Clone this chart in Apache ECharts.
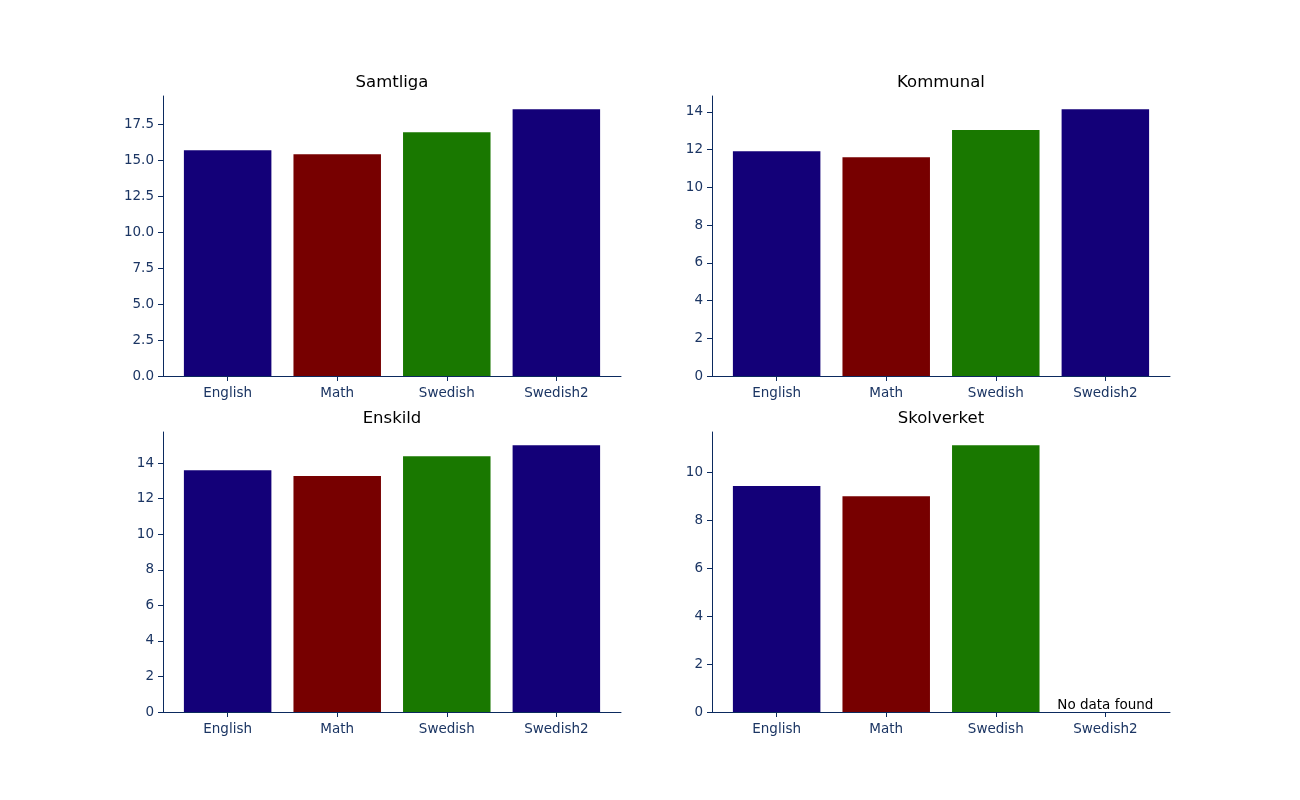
<!DOCTYPE html>
<html lang="en">
<head>
    <meta charset="UTF-8">
    <title>Subjects</title>
    <script src="https://cdn.jsdelivr.net/npm/echarts@6/dist/echarts.min.js"></script>
    <style>
        html, body {margin: 0; padding: 0; background: #fff;}
        #main {width: 1300px; height: 800px;}
    </style>
</head>
<body>
<div id="main"></div>
<script>
    // data
    let subjects   = ['English', 'Math', 'Swedish', 'Swedish2'];
    let barColors  = ['#130078', '#770000', '#197800', '#130078'];
    let samtliga   = [15.69, 15.42, 16.94, 18.54];
    let kommunal   = [11.92, 11.6, 13.04, 14.14];
    let enskild    = [13.6, 13.27, 14.39, 15.0];
    let skolverket = [9.42, 9.0, 11.12, null];
    let titles     = ['Samtliga', 'Kommunal', 'Enskild', 'Skolverket'];
    let yTicks     = [
        [0, 2.5, 5, 7.5, 10, 12.5, 15, 17.5],
        [0, 2, 4, 6, 8, 10, 12, 14],
        [0, 2, 4, 6, 8, 10, 12, 14],
        [0, 2, 4, 6, 8, 10]
    ];
    let panels     = [samtliga, kommunal, enskild, skolverket];

    let axisColor  = '#0b2a5e';
    let labelColor = '#1b3563';
    let font       = 'DejaVu Sans';

    // panel boxes (matplotlib 2x2 subplots)
    let boxes = [
        {left: 163, top: 96},
        {left: 712, top: 96},
        {left: 163, top: 432},
        {left: 712, top: 432}
    ];
    let boxW  = 458, boxH = 280;

    let chart  = echarts.init(document.getElementById('main'));
    let option = {
        animation: false,
        textStyle: {fontFamily: font},
        title    : [],
        grid     : [],
        xAxis    : [],
        yAxis    : [],
        series   : []
    };

    panels.forEach(function (vals, i) {
        let b    = boxes[i];
        let vmax = Math.max.apply(null, vals.filter(function (v) { return v != null; }));
        let dec  = i === 0 ? 1 : 0;
        option.title.push({
            text     : titles[i],
            left     : b.left + boxW / 2,
            top      : b.top - 22,
            textAlign: 'center',
            padding  : 0,
            textStyle: {fontFamily: font, fontSize: 16.5, fontWeight: 'normal', color: '#000'}
        });
        option.grid.push({left: b.left, top: b.top, width: boxW, height: boxH, containLabel: false});
        option.xAxis.push({
            type     : 'value',
            gridIndex: i,
            min      : -0.59,
            max      : 3.59,
            splitLine: {show: false},
            axisLine : {show: true, onZero: false, lineStyle: {color: axisColor, width: 1}},
            axisTick : {show: true, length: 5, customValues: [0, 1, 2, 3], lineStyle: {color: axisColor}},
            axisLabel: {
                customValues: [0, 1, 2, 3],
                margin      : 10,
                color       : labelColor,
                fontSize    : 13.5,
                fontFamily  : font,
                formatter   : function (v) { return subjects[Math.round(v)]; }
            }
        });
        option.yAxis.push({
            type     : 'value',
            gridIndex: i,
            min      : 0,
            max      : vmax * 1.05,
            splitLine: {show: false},
            axisLine : {show: true, onZero: false, lineStyle: {color: axisColor, width: 1}},
            axisTick : {show: true, length: 5, customValues: yTicks[i], lineStyle: {color: axisColor}},
            axisLabel: {
                customValues: yTicks[i],
                margin      : 9,
                color       : labelColor,
                fontSize    : 13.5,
                fontFamily  : font,
                formatter   : function (v) { return v.toFixed(dec); }
            }
        });
        option.series.push({
            type      : 'bar',
            xAxisIndex: i,
            yAxisIndex: i,
            barWidth  : 87.5,
            data      : vals.map(function (v, k) {
                return {value: [k, v], itemStyle: {color: barColors[k]}};
            }).filter(function (d) { return d.value[1] != null; })
        });
        // empty category gets a note
        vals.forEach(function (v, k) {
            if (v == null) {
                option.series.push({
                    type      : 'scatter',
                    xAxisIndex: i,
                    yAxisIndex: i,
                    symbolSize: 1,
                    clip      : false,
                    itemStyle : {color: 'rgba(0,0,0,0)'},
                    label     : {
                        show           : true,
                        position       : 'top',
                        distance       : -1,
                        formatter      : 'No data found',
                        color          : '#000',
                        opacity        : 1,
                        textBorderWidth: 0,
                        fontSize       : 13.5,
                        fontFamily     : font
                    },
                    data      : [[k, 0]]
                });
            }
        });
    });

    chart.setOption(option);
</script>
</body>
</html>
